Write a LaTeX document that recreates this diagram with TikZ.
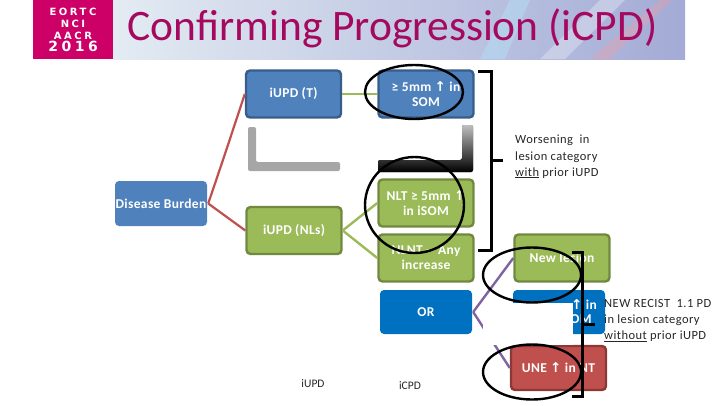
\documentclass[tikz,border=0pt]{standalone}
\usepackage{fontspec}
\setmainfont{Carlito}
\newfontfamily\symfont{DejaVu Sans}
\newfontfamily\boxfont[LetterSpace=2.5]{Carlito}
\newfontfamily\notefont[LetterSpace=3.5]{Carlito}
\newfontfamily\logofont[LetterSpace=25]{DejaVu Sans}
\newcommand{\upmark}{{\symfont\char"2191}}
\usetikzlibrary{shapes.geometric}
\definecolor{boxblue}{HTML}{4F81BD}
\definecolor{boxblueline}{HTML}{385D8A}
\definecolor{boxgreen}{HTML}{9BBB59}
\definecolor{boxgreenline}{HTML}{71893F}
\definecolor{boxred}{HTML}{C0504D}
\definecolor{boxredline}{HTML}{8C3836}
\definecolor{orblue}{HTML}{0070C0}
\definecolor{linepurple}{HTML}{8064A2}
\definecolor{titlepink}{HTML}{A5095F}
\definecolor{logopink}{HTML}{CC0066}
\definecolor{bannerleft}{HTML}{E3EBF3}
\definecolor{bannermid}{HTML}{C5D6EA}
\definecolor{bannerright}{HTML}{A3ABD6}

\begin{document}
\begin{tikzpicture}[
    x=1pt, y=-1pt,
    box/.style={rectangle, rounded corners=4pt, line width=2.4pt, align=center, text=white, font=\boxfont\fontsize{13.5}{15}\selectfont\bfseries, inner sep=0pt},
    bluebox/.style={box, draw=boxblueline, fill=boxblue, minimum width=95pt, minimum height=47pt},
    greenbox/.style={box, draw=boxgreenline, fill=boxgreen, minimum width=95pt, minimum height=47pt},
    redbox/.style={box, draw=boxredline, fill=boxred, minimum width=95pt, minimum height=44pt},
    plainbox/.style={box, draw=none, fill=orblue, minimum width=92pt, minimum height=44pt},
    note/.style={font=\notefont\fontsize{12.5}{16.2}\selectfont, align=left, anchor=north west, inner sep=0pt, text=black!85},
    plain/.style={font=\fontsize{11.5}{14}\selectfont, text=black!85, inner sep=0pt},
    redline/.style={boxred, line width=2.2pt},
    greenline/.style={boxgreen, line width=2.4pt},
    purpleline/.style={linepurple, line width=2.4pt},
    ring/.style={ellipse, draw=black, line width=2.4pt, inner sep=0pt},
    bracket/.style={draw=black, line width=3pt}
]
\useasboundingbox (0,0) rectangle (720,405);

% Banner
\fill[left color=bannerleft, middle color=bannermid, right color=bannerright] (113,0) rectangle (685,59);
\fill[white, opacity=0.3] (540,59) -- (600,0) -- (625,0) -- (565,59) -- cycle;
\fill[red!40, opacity=0.3] (590,59) -- (660,0) -- (672,0) -- (610,59) -- cycle;
\fill[cyan!30, opacity=0.4] (480,59) -- (510,0) -- (530,0) -- (505,59) -- cycle;
\node[rectangle, fill=logopink, minimum width=80pt, minimum height=59pt, inner sep=0pt, text=white, align=center, font=\logofont\fontsize{10}{12}\selectfont\bfseries] (logo) at (73,29.5) {EORTC\\NCI\\AACR\\{\fontsize{14}{13}\selectfont 2016}};
\node[font=\fontsize{43.5}{48}\selectfont, text=titlepink, inner sep=0pt] (title) at (392.5,28) {Confirming Progression (iCPD)};

% Boxes
\node[box, draw=none, fill=boxblue, minimum width=92pt, minimum height=45pt] (burden) at (161,203.5) {Disease Burden};
\node[bluebox] (iupdT) at (293.5,94) {iUPD (T)};
\node[greenbox] (iupdNL) at (294,230.5) {iUPD (NLs)};
\node[bluebox] (som) at (426,94) {≥ 5mm \upmark{} in\\SOM};
\node[greenbox] (nlt) at (426,203) {NLT ≥ 5mm \upmark\\in iSOM};
\node[greenbox] (nlnt) at (426,258) {NLNT -- Any\\increase};
\node[plainbox] (orbox) at (426,312) {OR};
\node[greenbox] (newlesion) at (562,258) {New lesion};
\node[plainbox] (unt) at (559,312) {};
\node[redbox] (une) at (558.5,368) {UNE \upmark{} in NT};

% Gray corner shapes
\fill[black!35, rounded corners=2pt] (248,127) -- (256,127) -- (256,162) -- (340,162) -- (340,171) -- (248,171) -- cycle;
\fill[top color=black!25, bottom color=black, rounded corners=2pt] (462,125) -- (473,125) -- (473,172) -- (378,172) -- (378,160) -- (462,160) -- cycle;

% Connectors
\draw[redline] (burden.east) .. controls (223,160) .. (iupdT.west);
\draw[redline] (burden.east) -- (iupdNL.west);
\draw[greenline] (iupdT.east) -- (som.west);
\draw[greenline] (iupdNL.east) -- (nlt.west);
\draw[greenline] (iupdNL.east) -- (nlnt.west);
\draw[purpleline] (orbox.east) -- (newlesion.west);
\draw[purpleline] (orbox.east) -- (une.west);

% Cover over the lower blue box
\fill[white] (483,303) rectangle (573,345);
\node[font=\boxfont\fontsize{13.5}{15}\selectfont\bfseries, text=white, inner sep=0pt] (untup) at (584,305) {\upmark{} in};
\node[font=\boxfont\fontsize{13.5}{15}\selectfont\bfseries, text=white, inner sep=0pt] (untom) at (581,319) {OM};

% Rings
\node[ring, minimum width=98pt, minimum height=54pt] (ringA) at (414,92) {};
\node[ring, minimum width=99pt, minimum height=96pt] (ringB) at (414.5,205) {};
\node[ring, minimum width=98pt, minimum height=55pt] (ringC) at (532,275) {};
\node[ring, minimum width=98pt, minimum height=55pt] (ringD) at (532,372) {};

% Brackets
\coordinate (brAa) at (478,71);
\coordinate (brAb) at (491,71);
\coordinate (brAc) at (491,250);
\coordinate (brAd) at (478,250);
\coordinate (brAm) at (491,160);
\coordinate (brAt) at (503,160);
\draw[bracket] (brAa) -- (brAb) -- (brAc) -- (brAd);
\draw[bracket] (brAm) -- (brAt);
\coordinate (brBa) at (572,252);
\coordinate (brBb) at (582,252);
\coordinate (brBc) at (582,396);
\coordinate (brBd) at (572,396);
\coordinate (brBm) at (582,324);
\coordinate (brBt) at (595,324);
\draw[bracket] (brBa) -- (brBb) -- (brBc) -- (brBd);
\draw[bracket] (brBm) -- (brBt);

% Notes
\node[note] (worse) at (515,135) {Worsening\ \ in\\lesion category\\\underline{with} prior iUPD};
\node[note] (recist) at (604,299) {NEW RECIST\ \ 1.1 PD\\in lesion category\\\underline{without} prior iUPD};
\node[plain] (labelU) at (313,384) {iUPD};
\node[plain] (labelC) at (410,386) {iCPD};

\end{tikzpicture}
\end{document}
